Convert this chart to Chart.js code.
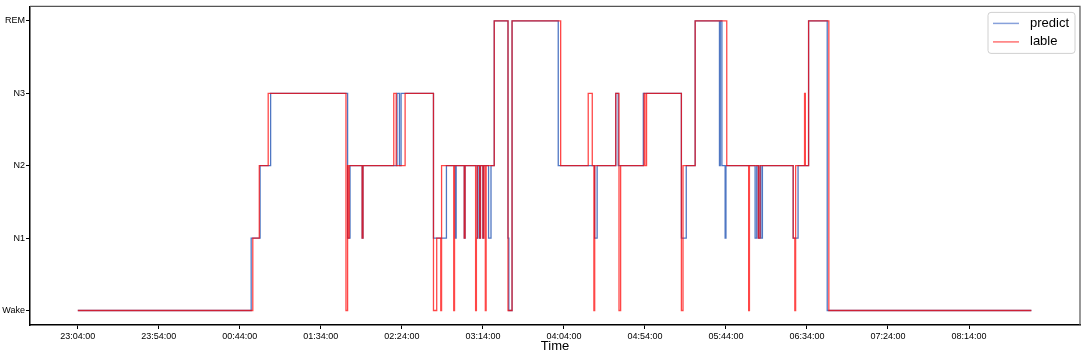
<!DOCTYPE html>
<html>
<head>
<meta charset="utf-8">
<script src="https://cdn.jsdelivr.net/npm/chart.js@4.4.0/dist/chart.umd.min.js"></script>
<style>
  html, body { margin: 0; padding: 0; background: #fff; }
</style>
</head>
<body>
<canvas id="hypno" width="1084" height="353"></canvas>
<script>
// y axis categories, bottom to top
const stages = ['Wake', 'N1', 'N2', 'N3', 'REM']

// x axis: minutes after 23:04:00
const startClock = [23, 4]
const tickMinutes = [0, 50, 100, 150, 200, 250, 300, 350, 400, 450, 500, 550]

// predicted stages, one entry per change point
const predictMinutes = [0, 107, 112.5, 119, 166.5, 168, 175.5, 176, 197, 198.5, 199.5, 219.5, 227.5, 233, 233.5,
  238.5, 239, 246.5, 247, 248, 248.5, 250, 250.5, 253.5, 255, 257, 265.5, 266, 268, 296.5, 319, 320.5,
  332, 333.5, 349, 372.5, 375.5, 381, 396, 396.5, 397.5, 399.5, 400, 418, 419, 420, 421, 421.5, 422.5,
  441.5, 444.5, 451, 462.5, 588.5]
const predictStages = ['Wake', 'N1', 'N2', 'N3', 'N1', 'N2', 'N1', 'N2', 'N3', 'N2', 'N3', 'N1', 'N2', 'N1', 'N2',
  'N1', 'N2', 'N1', 'N2', 'N1', 'N2', 'N1', 'N2', 'N1', 'N2', 'REM', 'N1', 'Wake', 'REM', 'N2', 'N1', 'N2',
  'N3', 'N2', 'N3', 'N1', 'N2', 'REM', 'N2', 'REM', 'N2', 'N1', 'N2', 'N1', 'N2', 'N1', 'N2', 'N1', 'N2',
  'N1', 'N2', 'REM', 'Wake', 'Wake']

// scored (label) stages
const lableMinutes = [0, 108, 112, 117.5, 165.5, 166.5, 167, 167.5, 175.5, 176, 195, 196.5, 202, 219.5, 221.5,
  224, 224.5, 232, 232.5, 238.5, 239, 245.5, 246, 246.5, 248, 248.5, 250, 250.5, 251.5, 252, 257, 265.5,
  268, 298, 315, 317.5, 318.5, 319, 332, 334, 335, 349.5, 350, 351, 372.5, 373.5, 381, 400.5, 414, 414.5,
  420, 421, 441.5, 442.5, 443, 448.5, 449, 451, 463.5, 588.5]
const lableStages = ['Wake', 'N1', 'N2', 'N3', 'Wake', 'N2', 'N1', 'N2', 'N1', 'N2', 'N3', 'N2', 'N3', 'Wake', 'N1',
  'Wake', 'N2', 'Wake', 'N2', 'N1', 'N2', 'Wake', 'N1', 'N2', 'N1', 'N2', 'N1', 'N2', 'Wake', 'N2', 'REM', 'Wake',
  'REM', 'N2', 'N3', 'N2', 'Wake', 'N2', 'N3', 'Wake', 'N2', 'N3', 'N2', 'N3', 'Wake', 'N2', 'REM', 'N2', 'Wake', 'N2',
  'N1', 'N2', 'N1', 'Wake', 'N2', 'N3', 'N2', 'REM', 'Wake', 'Wake']

const fontFamily = '"Liberation Sans", Arial, Helvetica, sans-serif'

const toPoints = (mins, sts) => mins.map((m, i) => ({ x: m, y: stages.indexOf(sts[i]) }))

const clock = (m) => {
  const t = ((startClock[0] * 60 + startClock[1] + m) % 1440 + 1440) % 1440
  const hh = String(Math.floor(t / 60)).padStart(2, '0')
  const mm = String(Math.round(t % 60)).padStart(2, '0')
  return hh + ':' + mm + ':00'
}

// top and right edges of the plot box
const frame = {
  id: 'frame',
  afterDatasetsDraw(chart) {
    const { ctx, chartArea: a } = chart
    ctx.save()
    ctx.strokeStyle = '#555'
    ctx.lineWidth = 1.2
    ctx.beginPath()
    ctx.moveTo(a.left, a.top)
    ctx.lineTo(a.right, a.top)
    ctx.lineTo(a.right, a.bottom)
    ctx.stroke()
    ctx.restore()
  }
}

// matplotlib style legend in the upper right corner
const boxLegend = {
  id: 'boxLegend',
  afterDraw(chart) {
    const { ctx, chartArea: a } = chart
    const x0 = a.right - 92, y0 = a.top + 6, w = 87, h = 41
    ctx.save()
    ctx.beginPath()
    ctx.roundRect(x0, y0, w, h, 3)
    ctx.fillStyle = 'rgba(255,255,255,0.85)'
    ctx.fill()
    ctx.strokeStyle = '#d0d0d0'
    ctx.lineWidth = 1
    ctx.stroke()
    ctx.font = '13px ' + fontFamily
    ctx.textBaseline = 'middle'
    ctx.fillStyle = '#000'
    chart.data.datasets.forEach((ds, i) => {
      const y = y0 + 11 + i * 18.5
      ctx.strokeStyle = ds.legendColor
      ctx.lineWidth = 1.5
      ctx.beginPath()
      ctx.moveTo(x0 + 5, y)
      ctx.lineTo(x0 + 31, y)
      ctx.stroke()
      ctx.fillText(ds.label, x0 + 42, y)
    })
    ctx.restore()
  }
}

const hypno = new Chart(
  document.getElementById('hypno'),
  {
    type: 'line',
    data: {
      datasets: [
        {
          label: 'predict',
          data: toPoints(predictMinutes, predictStages),
          borderColor: 'rgba(35,85,180,0.8)',
          legendColor: 'rgba(70,110,200,0.65)',
          order: 1,
        },
        {
          label: 'lable',
          data: toPoints(lableMinutes, lableStages),
          borderColor: 'rgba(255,0,0,0.72)',
          legendColor: 'rgba(255,40,40,0.65)',
          order: 0,
        }
      ]
    },
    options: {
      responsive: false,
      animation: false,
      layout: { padding: { top: 4, right: 4, left: 0, bottom: 0 } },
      elements: {
        point: { radius: 0 },
        line: { borderWidth: 1.3, stepped: 'before', fill: false, tension: 0 }
      },
      plugins: {
        legend: { display: false },
        tooltip: { enabled: false }
      },
      scales: {
        x: {
          type: 'linear',
          min: -29.5,
          max: 618.5,
          afterBuildTicks: (s) => { s.ticks = tickMinutes.map(v => ({ value: v })) },
          afterFit: (s) => { s.height = 28 },
          ticks: {
            callback: (v) => clock(v),
            color: '#000',
            font: { size: 9, family: fontFamily },
            padding: 2,
            maxRotation: 0,
            autoSkip: false,
          },
          grid: { drawOnChartArea: false, tickLength: 4, color: '#000' },
          border: { color: '#000', width: 1.5 },
          title: {
            display: true,
            text: 'Time',
            color: '#000',
            font: { size: 13, family: fontFamily, lineHeight: 1 },
            padding: { top: 0, bottom: 0 },
          }
        },
        y: {
          type: 'linear',
          min: -0.2,
          max: 4.2,
          afterBuildTicks: (s) => { s.ticks = stages.map((n, i) => ({ value: i })) },
          afterFit: (s) => { s.width = 30 },
          ticks: {
            callback: (v) => stages[v],
            color: '#000',
            font: { size: 9, family: fontFamily },
            padding: 1,
          },
          grid: { drawOnChartArea: false, tickLength: 4, color: '#000' },
          border: { color: '#000', width: 1.5 },
        }
      }
    },
    plugins: [frame, boxLegend]
  }
)
</script>
</body>
</html>
